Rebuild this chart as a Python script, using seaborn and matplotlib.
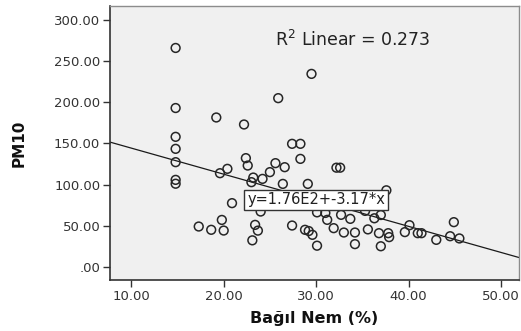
import matplotlib
matplotlib.use("Agg")
import matplotlib.pyplot as plt
import seaborn as sns
import numpy as np
import pandas as pd
from matplotlib.ticker import FuncFormatter

# Data
humidity = [14.8, 29.5, 25.9, 14.8, 19.2, 22.2, 14.8, 27.4, 28.3, 14.8,
            28.3, 22.4, 22.6, 25.6, 26.6, 14.8, 19.6, 20.4, 25.0, 23.2,
            24.2, 23.0, 14.8, 14.8, 32.2, 32.6, 26.4, 29.1, 37.6, 20.9,
            24.0, 30.1, 31.2, 32.7, 33.7, 35.3, 36.3, 37.0, 40.1, 41.0,
            41.4, 43.0, 44.5, 44.9, 45.5, 39.6, 37.0, 34.2, 30.1, 23.1,
            23.4, 23.7, 19.8, 20.0, 18.65, 17.3, 27.4, 28.8, 29.2, 29.6,
            31.9, 33.0, 34.2, 35.6, 36.8, 37.8, 37.9, 31.0]
pm10 = [266.0, 234.5, 205.0, 193.0, 181.5, 173.0, 158.0, 149.5, 149.5, 143.4,
        131.2, 132.1, 123.1, 126.0, 121.1, 127.2, 113.8, 119.1, 115.1, 108.5,
        106.9, 102.9, 105.7, 101.0, 120.5, 120.5, 100.8, 100.8, 93.0, 77.4,
        67.2, 66.2, 57.1, 63.2, 58.3, 68.0, 59.0, 63.0, 50.6, 40.9,
        40.9, 32.8, 37.2, 54.3, 34.5, 42.2, 25.0, 27.6, 25.7, 32.2,
        51.0, 44.0, 57.0, 44.1, 45.0, 49.0, 50.2, 45.0, 43.5, 38.9,
        47.0, 41.7, 41.7, 45.5, 40.9, 40.9, 36.1, 65.5]

fit_intercept = 176.0
fit_slope = -3.17
r_squared = 0.273
x_ticks = [10, 20, 30, 40, 50]
y_ticks = [0, 50, 100, 150, 200, 250, 300]

df = pd.DataFrame({"Bağıl Nem (%)": humidity, "PM10": pm10})

sns.set_theme(style="ticks")
plt.rcParams["font.family"] = ["DejaVu Sans"]

fig = plt.figure(figsize=(5.21, 3.31), dpi=100)
fig.patch.set_facecolor("white")
ax = fig.add_axes([110 / 521, 1 - 280 / 331, 409 / 521, 274 / 331])
ax.set_facecolor("#f0f0f0")

# regression line
ax.axline((0, fit_intercept), slope=fit_slope, color="#1a1a1a", lw=0.9, zorder=2)

sns.scatterplot(data=df, x="Bağıl Nem (%)", y="PM10", ax=ax, marker="o",
                s=40, fc="none", ec="#262626", linewidth=1.1, zorder=3)

ax.set_xlim(7.7, 51.95)
ax.set_ylim(-16, 317)
ax.set_xticks(x_ticks)
ax.set_yticks(y_ticks)

def fmt(v, pos):
    s = f"{v:.2f}"
    if s.startswith("0."):
        s = s[1:]
    return s

ax.xaxis.set_major_formatter(FuncFormatter(fmt))
ax.yaxis.set_major_formatter(FuncFormatter(fmt))
ax.tick_params(axis="both", direction="out", length=5, width=1.0, color="#333333",
               labelsize=9.5, labelcolor="#333333", pad=2)

for side in ["left", "bottom"]:
    ax.spines[side].set_color("#333333")
    ax.spines[side].set_linewidth(1.2)
for side in ["top", "right"]:
    ax.spines[side].set_color("#8c8c8c")
    ax.spines[side].set_linewidth(1.0)

ax.set_xlabel("Bağıl Nem (%)", fontsize=11.5, fontweight="bold", color="#111111", labelpad=6)
ax.set_ylabel("PM10", fontsize=11, fontweight="bold", color="#111111", labelpad=20)

ax.text(0.403, 0.876, rf"R$^2$ Linear = {r_squared:.3f}", transform=ax.transAxes,
        fontsize=12.5, color="#222222", ha="left", va="center")

ax.text(0.504, 0.292, f"y={fit_intercept/100:.2f}E2+{fit_slope:.2f}*x",
        transform=ax.transAxes, fontsize=10.5, color="#222222", ha="center", va="center",
        zorder=5,
        bbox=dict(boxstyle="square,pad=0.2", fc="white", ec="#333333", lw=1.0))

fig.savefig("out.png", dpi=100)
